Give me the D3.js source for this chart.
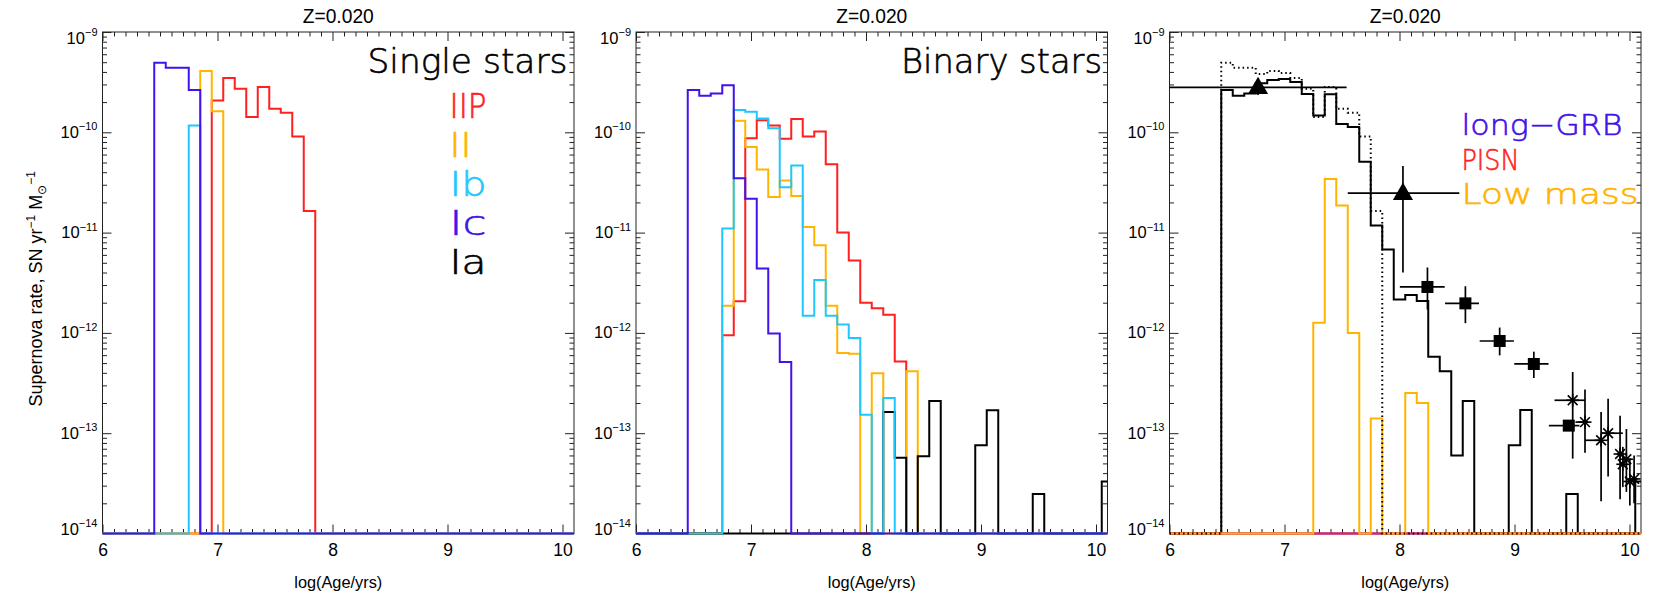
<!DOCTYPE html>
<html><head><meta charset="utf-8">
<script src="https://cdn.jsdelivr.net/npm/d3@7"></script>
<style>body{margin:0;background:#fff;} svg{display:block;}</style>
</head><body>
<svg id="chart" width="1661" height="599"></svg>
<script>
// ---------------- DATA ----------------
// bin centres of log(Age/yrs) histograms (bin width 0.1)
const ageBins = [6.0,6.1,6.2,6.3,6.4,6.5,6.6,6.7,6.8,6.9,
                 7.0,7.1,7.2,7.3,7.4,7.5,7.6,7.7,7.8,7.9,
                 8.0,8.1,8.2,8.3,8.4,8.5,8.6,8.7,8.8,8.9,
                 9.0,9.1,9.2,9.3,9.4,9.5,9.6,9.7,9.8,9.9,
                 10.0,10.1];

// Panel 1 : single stars
const singleIIP = [0,0,0,0,0,0,0,0,0,0,
  2.07e-10,3.48e-10,2.72e-10,1.42e-10,2.83e-10,1.72e-10,1.57e-10,9.1e-11,1.64e-11,0,
  0,0,0,0,0,0,0,0,0,0, 0,0,0,0,0,0,0,0,0,0, 0,0];
const singleII = [0,0,0,0,0,0,0,0,0,4.08e-10,
  1.62e-10,0,0,0,0,0,0,0,0,0,
  0,0,0,0,0,0,0,0,0,0, 0,0,0,0,0,0,0,0,0,0, 0,0];
const singleIb = [0,0,0,0,0,0,0,0,1.17e-10,0,
  0,0,0,0,0,0,0,0,0,0,
  0,0,0,0,0,0,0,0,0,0, 0,0,0,0,0,0,0,0,0,0, 0,0];
const singleIc = [0,0,0,0,0,4.95e-10,4.41e-10,4.41e-10,2.64e-10,0,
  0,0,0,0,0,0,0,0,0,0,
  0,0,0,0,0,0,0,0,0,0, 0,0,0,0,0,0,0,0,0,0, 0,0];
const singleIa = [];

// Panel 2 : binary stars
const binaryIIP = [0,0,0,0,0,0,0,0,9.5e-13,2.07e-12,
  8.7e-11,1.32e-10,1.17e-10,8.64e-11,1.36e-10,9.06e-11,1.02e-10,4.8e-11,1.0e-11,5.26e-12,
  2.0e-12,1.76e-12,1.52e-12,5.2e-13,0,0,0,0,0,0,
  0,0,0,0,0,0,0,0,0,0, 0,0];
const binaryII = [0,0,0,0,0,0,0,0,1.86e-12,1.30e-10,
  7.14e-11,4.25e-11,2.26e-11,3.30e-11,2.32e-11,1.14e-11,7.5e-12,1.86e-12,6.3e-13,6.2e-13,
  0,3.96e-13,0,0,4.15e-13,0,0,0,0,0,
  0,0,0,0,0,0,0,0,0,0, 0,0];
const binaryIb = [0,0,0,0,0,0,0,0,1.10e-11,1.67e-10,
  1.60e-10,1.37e-10,1.10e-10,2.83e-11,4.66e-11,1.48e-12,3.37e-12,1.48e-12,1.21e-12,8.9e-13,
  1.53e-13,0,2.25e-13,0,0,0,0,0,0,0,
  0,0,0,0,0,0,0,0,0,0, 0,0];
const binaryIc = [0,0,0,0,0,2.64e-10,2.32e-10,2.43e-10,2.94e-10,3.48e-11,
  2.18e-11,4.38e-12,9.85e-13,5.14e-13,0,0,0,0,0,0,
  0,0,0,0,0,0,0,0,0,0, 0,0,0,0,0,0,0,0,0,0, 0,0];
const binaryIa = [0,0,0,0,0,0,0,0,0,0,
  0,0,0,0,0,0,0,0,0,0,
  0,0,1.63e-13,5.7e-14,0,5.9e-14,2.1e-13,0,0,0,
  7.6e-14,1.69e-13,0,0,0,2.47e-14,0,0,0,0, 0,3.3e-14];

// Panel 3 : totals and observations
const totalBinary = [0,0,0,0,0,2.64e-10,2.32e-10,2.43e-10,3.08e-10,3.33e-10,
  3.40e-10,3.18e-10,2.41e-10,1.47e-10,2.39e-10,1.21e-10,1.13e-10,5.1e-11,1.18e-11,6.8e-12,
  2.15e-12,2.39e-12,2.08e-12,5.8e-13,4.15e-13,6.0e-14,2.1e-13,0,0,0,
  7.6e-14,1.7e-13,0,0,0,2.47e-14,0,0,0,0, 0,3.3e-14];
const totalSingle = [0,0,0,0,0,4.95e-10,4.41e-10,4.41e-10,3.81e-10,4.08e-10,
  3.9e-10,3.48e-10,2.72e-10,1.42e-10,2.83e-10,1.72e-10,1.57e-10,9.1e-11,1.64e-11,0,
  0,0,0,0,0,0,0,0,0,0, 0,0,0,0,0,0,0,0,0,0, 0,0];
const longGRB = [0,0,0,0,0,0,0,0,0,0, 0,0,0,0,0,0,0,0,0,0,
  0,0,0,0,0,0,0,0,0,0, 0,0,0,0,0,0,0,0,0,0, 0,0];
const pisn = [0,0,0,0,0,0,0,0,0,0, 0,0,0,0,0,0,0,0,0,0,
  0,0,0,0,0,0,0,0,0,0, 0,0,0,0,0,0,0,0,0,0, 0,0];
const lowMass = [0,0,0,0,0,0,0,0,0,0,
  0,0,0,1.26e-12,3.43e-11,1.86e-11,1.0e-12,0,1.40e-13,0,
  0,2.52e-13,2.0e-13,0,0,0,0,0,0,0,
  0,0,0,0,0,0,0,0,0,0, 0,0];

// observed rates : triangles
const triAge    = [6.77, 8.03];
const triAgeLo  = [5.5, 7.55];
const triAgeHi  = [7.54, 8.52];
const triRate   = [2.81e-10, 2.47e-11];
const triRateLo = [2.36e-10, 3.99e-12];
const triRateHi = [3.33e-10, 4.61e-11];
// squares
const sqAge    = [8.243, 8.573, 8.871, 9.168, 9.472];
const sqAgeLo  = [8.003, 8.396, 8.697, 8.998, 9.299];
const sqAgeHi  = [8.393, 8.691, 8.995, 9.296, 9.565];
const sqRate   = [2.87e-12, 1.97e-12, 8.3e-13, 4.9e-13, 1.19e-13];
const sqRateLo = [1.71e-12, 1.25e-12, 5.97e-13, 3.55e-13, 1.08e-13];
const sqRateHi = [4.49e-12, 2.92e-12, 1.13e-12, 6.5e-13, 1.32e-13];
// asterisks
const astAge    = [9.506, 9.613, 9.753, 9.814, 9.918, 9.942, 9.973, 10.003, 10.040];
const astAgeLo  = [9.348, 9.53, 9.613, 9.753, 9.89, 9.92, 9.95, 9.98, 10.02];
const astAgeHi  = [9.613, 9.64, 9.753, 9.942, 9.95, 9.96, 10.0, 10.03, 10.07];
const astRate   = [2.13e-13, 1.29e-13, 8.5e-14, 1.0e-13, 6.2e-14, 4.9e-14, 5.5e-14, 3.3e-14, 3.5e-14];
const astRateLo = [5.58e-14, 6.4e-14, 2.1e-14, 3.7e-14, 2.2e-14, 2.9e-14, 2.6e-14, 1.9e-14, 2.0e-14];
const astRateHi = [4.08e-13, 2.72e-13, 1.63e-13, 2.21e-13, 1.49e-13, 7.3e-14, 1.1e-13, 5.6e-14, 6.0e-14];

// tick values / labels
const xMajorTicks = [6, 7, 8, 9, 10];
const xTickLabels = ["6", "7", "8", "9", "10"];
const yMajorTicks = [1e-14, 1e-13, 1e-12, 1e-11, 1e-10, 1e-9];
const yTickExps = ["\u221214", "\u221213", "\u221212", "\u221211", "\u221210", "\u22129"];
const panelTitles = ["Z=0.020", "Z=0.020", "Z=0.020"];
const panelNames = ["Single stars", "Binary stars"];
const typeLabels = ["IIP", "II", "Ib", "Ic", "Ia"];
const extraLabels = ["long\u2212GRB", "PISN", "Low mass"];

// ---------------- LAYOUT / STYLE ----------------
const COL = {IIP:"#ff1f1f", II:"#ffb400", Ib:"#1ec8ff", Ic:"#4212ea", Ia:"#000000"};
const FONT = "'Liberation Sans', Arial, sans-serif";
const BIGFONT = "'DejaVu Sans', 'Liberation Sans', sans-serif";
const X_DOMAIN = [6, 10.1], Y_DOMAIN = [1e-14, 1e-9];
const panelLeft = [102.5, 636, 1169.5];
const PW = 471.5, TOP = 32, BOT = 533.5;

const svg = d3.select("#chart");

function makeScales(left) {
  const x = d3.scaleLinear().domain(X_DOMAIN).range([left, left + PW]);
  const y = d3.scaleLog().domain(Y_DOMAIN).range([BOT, TOP]);
  return {x, y};
}

function stepPath(x, y, vals) {
  const pts = [];
  vals.forEach((v, i) => {
    const c = ageBins[i];
    const x0 = Math.max(c - 0.05, X_DOMAIN[0]), x1 = Math.min(c + 0.05, X_DOMAIN[1]);
    const yy = y(Math.max(v, Y_DOMAIN[0]));
    pts.push([x(x0), yy], [x(x1), yy]);
  });
  return d3.line()(pts);
}

function bigText(g, x, y, str, size, color, len, anchor) {
  const t = g.append("text").attr("x", x).attr("y", y)
    .attr("font-family", BIGFONT).attr("font-weight", 200).attr("font-size", size)
    .attr("fill", color).attr("stroke", color).attr("stroke-width", 0.6)
    .attr("text-anchor", anchor || "start").text(str);
  if (len) t.attr("textLength", len).attr("lengthAdjust", "spacingAndGlyphs");
  return t;
}

function drawAxes(g, x, y, left) {
  const xMinor = d3.range(61, 101).map(d => d / 10).filter(d => !xMajorTicks.includes(d));
  const yMinor = [];
  for (let e = -14; e < -9; e++) for (let k = 2; k <= 9; k++) yMinor.push(k * Math.pow(10, e));

  const ax = [];
  ax.push(g.append("g").attr("transform", `translate(0,${BOT})`)
    .call(d3.axisBottom(x).tickValues(xMajorTicks).tickSize(-9).tickPadding(10.5)
      .tickFormat((d, i) => xTickLabels[i])));
  ax.push(g.append("g").attr("transform", `translate(0,${BOT})`)
    .call(d3.axisBottom(x).tickValues(xMinor).tickSize(-4.5).tickFormat("")));
  ax.push(g.append("g").attr("transform", `translate(0,${TOP})`)
    .call(d3.axisTop(x).tickValues(xMajorTicks).tickSize(-9).tickFormat("")));
  ax.push(g.append("g").attr("transform", `translate(0,${TOP})`)
    .call(d3.axisTop(x).tickValues(xMinor).tickSize(-4.5).tickFormat("")));
  ax.push(g.append("g").attr("transform", `translate(${left},0)`)
    .call(d3.axisLeft(y).tickValues(yMajorTicks).tickSize(-9).tickFormat("")));
  ax.push(g.append("g").attr("transform", `translate(${left},0)`)
    .call(d3.axisLeft(y).tickValues(yMinor).tickSize(-4.5).tickFormat("")));
  ax.push(g.append("g").attr("transform", `translate(${left + PW},0)`)
    .call(d3.axisRight(y).tickValues(yMajorTicks).tickSize(-9).tickFormat("")));
  ax.push(g.append("g").attr("transform", `translate(${left + PW},0)`)
    .call(d3.axisRight(y).tickValues(yMinor).tickSize(-4.5).tickFormat("")));
  ax.forEach(a => {
    a.select(".domain").remove();
    a.selectAll(".tick line").attr("stroke", "#222").attr("stroke-width", 1);
    a.selectAll("text").attr("font-family", FONT).attr("font-size", 17.5).attr("fill", "#000");
  });
  g.append("rect").attr("x", left).attr("y", TOP).attr("width", PW).attr("height", BOT - TOP)
    .attr("fill", "none").attr("stroke", "#222").attr("stroke-width", 1);

  // y tick labels 10^n
  yMajorTicks.forEach((v, i) => {
    let off = 5.5;
    if (i === 0) off = 1;
    if (i === yMajorTicks.length - 1) off = 11.5;
    const t = g.append("text").attr("x", left - 5).attr("y", y(v) + off)
      .attr("text-anchor", "end").attr("font-family", FONT).attr("fill", "#000");
    t.append("tspan").attr("font-size", 16.5).text("10");
    t.append("tspan").attr("font-size", 11).attr("dy", -7.5).text(yTickExps[i]);
  });

  g.append("text").attr("x", left + PW / 2).attr("y", 587.5)
    .attr("text-anchor", "middle").attr("font-family", FONT).attr("font-size", 17)
    .attr("textLength", 88).attr("lengthAdjust", "spacingAndGlyphs")
    .text("log(Age/yrs)");
}

function drawHist(g, x, y, vals, color, dash) {
  if (!vals.length) return;
  g.append("path").attr("d", stepPath(x, y, vals)).attr("fill", "none")
    .attr("stroke", color).attr("stroke-width", 2)
    .attr("stroke-dasharray", dash || null)
    .attr("stroke-linejoin", "miter");
}

// titles
panelLeft.forEach((left, i) => {
  svg.append("text").attr("x", left + PW / 2).attr("y", 23).attr("text-anchor", "middle")
    .attr("font-family", FONT).attr("font-size", 20)
    .attr("textLength", 71).attr("lengthAdjust", "spacingAndGlyphs").text(panelTitles[i]);
});

// y axis title
const yl = svg.append("text").attr("transform", `translate(42,${(TOP + BOT) / 2 + 6}) rotate(-90)`)
  .attr("text-anchor", "middle").attr("font-family", FONT).attr("font-size", 18);
yl.append("tspan").text("Supernova rate, SN yr");
yl.append("tspan").attr("font-size", 12).attr("dy", -7.5).text("\u22121");
yl.append("tspan").attr("dy", 7.5).text(" M");
yl.append("tspan").attr("font-size", 12).attr("dy", 4).text("\u2299");
yl.append("tspan").attr("font-size", 12).attr("dy", -11.5).text("\u22121");

const defs = svg.append("defs");
panelLeft.forEach((left, i) => {
  defs.append("clipPath").attr("id", "clip" + i).append("rect")
    .attr("x", left).attr("y", TOP - 2).attr("width", PW).attr("height", BOT - TOP + 4);
});

// ---- Panel 1
{
  const {x, y} = makeScales(panelLeft[0]);
  const g = svg.append("g");
  drawAxes(g, x, y, panelLeft[0]);
  const h = g.append("g").attr("clip-path", "url(#clip0)");
  drawHist(h, x, y, singleIIP, COL.IIP);
  drawHist(h, x, y, singleII, COL.II);
  drawHist(h, x, y, singleIa, COL.Ia);
  drawHist(h, x, y, singleIb, COL.Ib);
  drawHist(h, x, y, singleIc, COL.Ic);
  bigText(g, panelLeft[0] + 265, 73, panelNames[0], 34, "#000", 200);
  const cols = [COL.IIP, COL.II, COL.Ib, COL.Ic, COL.Ia];
  const base = [118, 157, 196, 235, 274];
  const lens = [37, 22, 37, 37, 37];
  typeLabels.forEach((t, i) => {
    bigText(g, panelLeft[0] + 347, base[i], t, 33, cols[i], lens[i]);
  });
}

// ---- Panel 2
{
  const {x, y} = makeScales(panelLeft[1]);
  const g = svg.append("g");
  drawAxes(g, x, y, panelLeft[1]);
  const h = g.append("g").attr("clip-path", "url(#clip1)");
  drawHist(h, x, y, binaryIIP, COL.IIP);
  drawHist(h, x, y, binaryII, COL.II);
  drawHist(h, x, y, binaryIa, COL.Ia);
  drawHist(h, x, y, binaryIb, COL.Ib);
  drawHist(h, x, y, binaryIc, COL.Ic);
  bigText(g, panelLeft[1] + 265, 73, panelNames[1], 34, "#000", 201);
}

// ---- Panel 3
{
  const {x, y} = makeScales(panelLeft[2]);
  const g = svg.append("g");
  drawAxes(g, x, y, panelLeft[2]);
  const h = g.append("g").attr("clip-path", "url(#clip2)");
  drawHist(h, x, y, totalBinary, "#000");
  drawHist(h, x, y, longGRB, COL.Ic);
  drawHist(h, x, y, pisn, COL.IIP);
  drawHist(h, x, y, lowMass, COL.II);
  drawHist(h, x, y, totalSingle, "#000", "1.5,3");

  const o = g.append("g").attr("clip-path", "url(#clip2)");
  function errBars(age, lo, hi, rate, rlo, rhi, w) {
    age.forEach((a, i) => {
      o.append("line").attr("x1", x(lo[i])).attr("x2", x(hi[i])).attr("y1", y(rate[i])).attr("y2", y(rate[i]))
        .attr("stroke", "#000").attr("stroke-width", w);
      o.append("line").attr("x1", x(a)).attr("x2", x(a)).attr("y1", y(rlo[i])).attr("y2", y(rhi[i]))
        .attr("stroke", "#000").attr("stroke-width", w);
    });
  }
  errBars(triAge, triAgeLo, triAgeHi, triRate, triRateLo, triRateHi, 1.7);
  errBars(sqAge, sqAgeLo, sqAgeHi, sqRate, sqRateLo, sqRateHi, 1.7);
  errBars(astAge, astAgeLo, astAgeHi, astRate, astRateLo, astRateHi, 1.7);
  const tri = d3.symbol().type(d3.symbolTriangle).size(175);
  triAge.forEach((a, i) => {
    o.append("path").attr("d", tri()).attr("transform", `translate(${x(a)},${y(triRate[i]) + 1})`).attr("fill", "#000");
  });
  sqAge.forEach((a, i) => {
    o.append("rect").attr("x", x(a) - 6).attr("y", y(sqRate[i]) - 6).attr("width", 12).attr("height", 12).attr("fill", "#000");
  });
  astAge.forEach((a, i) => {
    const cx = x(a), cy = y(astRate[i]), r = 6.5;
    [[r, 0], [0, r], [r * 0.75, r * 0.75], [r * 0.75, -r * 0.75]].forEach(([dx, dy]) => {
      o.append("line").attr("x1", cx - dx).attr("x2", cx + dx).attr("y1", cy - dy).attr("y2", cy + dy)
        .attr("stroke", "#000").attr("stroke-width", 1.6);
    });
  });
  const cols = [COL.Ic, COL.IIP, COL.II];
  const base = [135, 169.5, 204];
  const lens = [161, 58, 177];
  extraLabels.forEach((t, i) => {
    bigText(g, panelLeft[2] + 292, base[i], t, 29, cols[i], lens[i]);
  });
}
</script>
</body></html>
